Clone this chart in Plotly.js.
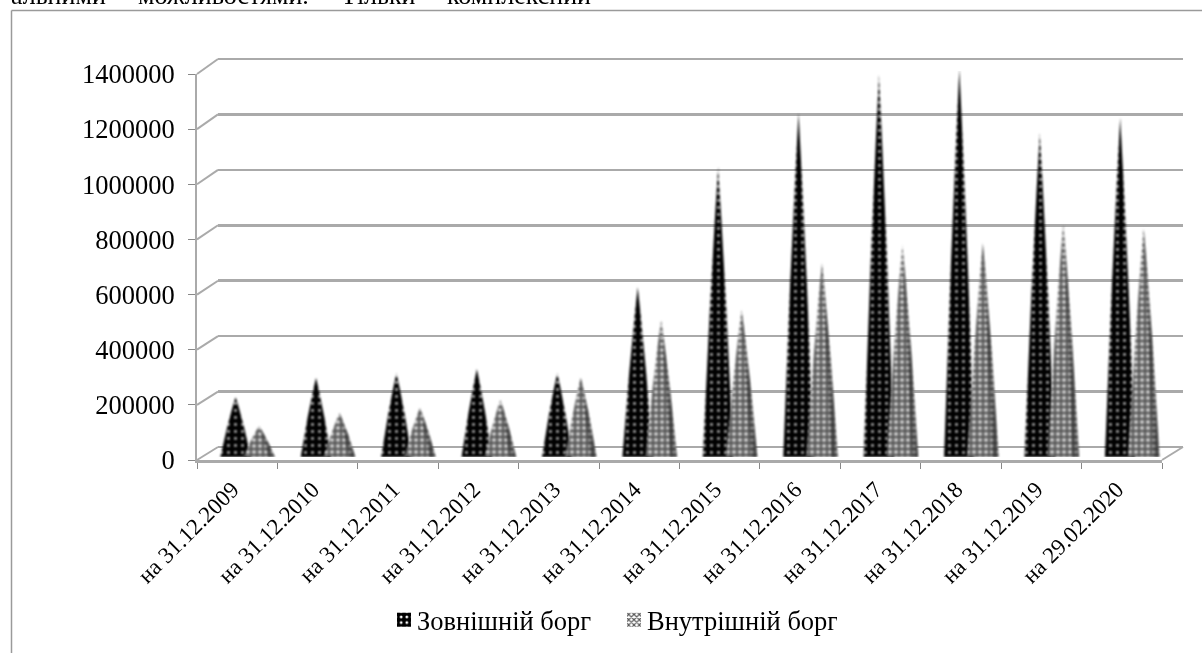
<!DOCTYPE html>
<html><head><meta charset="utf-8">
<script src="https://cdn.plot.ly/plotly-3.0.1.min.js"></script>
<style>
html,body{margin:0;padding:0;background:#fff;overflow:hidden}
#chart{width:1202px;height:653px;filter:blur(0.45px)}
.legendpoints path{transform:translate(27px,0) scale(1.17)}
.scatterlayer .trace{filter:blur(0.9px)}
</style></head><body><div id="chart"></div>
<script>
const categories=['на 31.12.2009','на 31.12.2010','на 31.12.2011','на 31.12.2012','на 31.12.2013','на 31.12.2014','на 31.12.2015','на 31.12.2016','на 31.12.2017','на 31.12.2018','на 31.12.2019','на 29.02.2020'];
const externalDebt=[218000,287000,305000,319000,305000,617000,1052000,1248000,1386000,1407000,1175000,1230000];
const internalDebt=[112000,160000,178000,207000,287000,497000,533000,704000,769000,776000,849000,831000];
const seriesNames=['Зовнішній борг','Внутрішній борг'];
const yTicks=[0,200000,400000,600000,800000,1000000,1200000,1400000];
const headerWords=[['альними',10],['можливостями.',137],['Тільки',340],['комплексний',446]];

const W=1202,H=653;
const fx=p=>p/W, fy=p=>1-p/H;
const FRONT={l:197,r:1162,t:74,b:460};
const BACK={l:218,r:1183,t:59,b:447};
const CONE_BASE=457;
const GREY='#aaaaaa';
const YMAX=1400000;
const GRID_PAD=40000;
const gridPadPx=GRID_PAD*(BACK.b-BACK.t)/YMAX;
// silhouette of the 3D cone: [height fraction, half-width fraction]
const PROFILE=[[0,1],[0.5,0.55],[0.83,0.2],[1,0]];

function cone(values,offset,hw){
  const x=[],y=[];
  values.forEach((v,i)=>{
    const c=i+offset;
    PROFILE.forEach(([h,w])=>{x.push(c-hw*w);y.push(v*h);});
    PROFILE.slice(0,-1).reverse().forEach(([h,w])=>{x.push(c+hw*w);y.push(v*h);});
    x.push(null);y.push(null);
  });
  return {x,y};
}
function shade(values,offset,hw,inner){
  const x=[],y=[];
  values.forEach((v,i)=>{
    const c=i+offset;
    PROFILE.forEach(([h,w])=>{x.push(c+hw*w*inner);y.push(v*h);});
    PROFILE.slice(0,-1).reverse().forEach(([h,w])=>{x.push(c+hw*w);y.push(v*h);});
    x.push(null);y.push(null);
  });
  return {x,y};
}
const ce=cone(externalDebt,0.48,0.19), ci=cone(internalDebt,0.772,0.195), si=shade(internalDebt,0.772,0.195,0.6);
const traces=[
 {type:'bar',name:seriesNames[0],x:categories,y:categories.map(()=>null),xaxis:'x',yaxis:'y',
  marker:{color:'#000',line:{width:0},pattern:{shape:'.',bgcolor:'#000',fgcolor:'#fff',size:6,solidity:.2,fillmode:'replace'}}},
 {type:'bar',name:seriesNames[1],x:categories,y:categories.map(()=>null),xaxis:'x',yaxis:'y',
  marker:{color:'#777',line:{width:0},pattern:{shape:'x',bgcolor:'#fff',fgcolor:'#555',size:4,solidity:.5,fillmode:'replace'}}},
 {type:'scatter',mode:'lines',x:[0,12],y:[0,0],xaxis:'x2',yaxis:'y2',line:{width:0},opacity:0,showlegend:false,hoverinfo:'skip'},
 {type:'scatter',mode:'lines',x:ce.x,y:ce.y,xaxis:'x3',yaxis:'y3',fill:'toself',line:{width:0,color:'#000'},showlegend:false,hoverinfo:'skip',
  fillcolor:'#000',fillpattern:{shape:'.',bgcolor:'#000',fgcolor:'#bbb',size:7,solidity:.14,fillmode:'replace'}},
 {type:'scatter',mode:'lines',x:ci.x,y:ci.y,xaxis:'x3',yaxis:'y3',fill:'toself',line:{width:0,color:'#666'},showlegend:false,hoverinfo:'skip',
  fillcolor:'#777',fillpattern:{shape:'.',bgcolor:'#5a5a5a',fgcolor:'#cfcfcf',size:6,solidity:.38,fillmode:'replace'}},
 {type:'scatter',mode:'lines',x:si.x,y:si.y,xaxis:'x3',yaxis:'y3',fill:'toself',line:{width:0,color:'#000'},showlegend:false,hoverinfo:'skip',fillcolor:'rgba(0,0,0,0.35)'}
];

const shapes=[
 {type:'line',xref:'paper',yref:'paper',x0:fx(11.5),x1:fx(11.5),y0:fy(10.5),y1:fy(653),line:{color:'#9a9a9a',width:1.5}},
 {type:'line',xref:'paper',yref:'paper',x0:fx(11.5),x1:fx(1202),y0:fy(10.5),y1:fy(10.5),line:{color:'#9a9a9a',width:1.5}}
];
yTicks.forEach(v=>{
  const py=FRONT.b-(FRONT.b-FRONT.t)*v/YMAX, qy=BACK.b-(BACK.b-BACK.t)*v/YMAX;
  shapes.push({type:'line',layer:'below',xref:'paper',yref:'paper',x0:fx(FRONT.l),y0:fy(py),x1:fx(BACK.l),y1:fy(qy),line:{color:GREY,width:2}});
});
shapes.push({type:'line',layer:'below',xref:'paper',yref:'paper',x0:fx(FRONT.r),y0:fy(FRONT.b),x1:fx(BACK.r),y1:fy(BACK.b),line:{color:GREY,width:2}});

const annotations=headerWords.map(([t,px])=>({text:t,xref:'paper',yref:'paper',x:fx(px),y:fy(-4.5),xanchor:'left',yanchor:'middle',showarrow:false,borderpad:0,
  font:{family:'Liberation Serif',size:26,color:'#000'}}));

const layout={
 width:W,height:H,margin:{l:0,r:0,t:0,b:0},paper_bgcolor:'#fff',plot_bgcolor:'rgba(0,0,0,0)',
 font:{family:'Liberation Serif',color:'#000'},
 barmode:'group',
 xaxis:{domain:[fx(FRONT.l),fx(FRONT.r)],anchor:'y',type:'category',categoryorder:'array',categoryarray:categories,range:[-0.5,11.5],tickson:'boundaries',ticks:'outside',ticklen:6,tickwidth:1,tickcolor:'#888',
   showline:true,linecolor:GREY,linewidth:3,showgrid:false,zeroline:false,tickangle:-45,tickfont:{size:23,family:'Liberation Serif'},automargin:false,ticklabelstandoff:4,ticklabelshift:-5},
 yaxis:{domain:[fy(FRONT.b),fy(FRONT.t)],anchor:'x',range:[0,YMAX],tickmode:'array',tickvals:yTicks,ticktext:yTicks.map(String),ticks:'outside',ticklen:7,tickwidth:1,tickcolor:'#888',
   showline:true,linecolor:GREY,linewidth:2,showgrid:false,zeroline:false,tickfont:{size:26.5,family:'Liberation Serif'},automargin:false,ticklabelstandoff:8},
 xaxis2:{domain:[fx(BACK.l),fx(BACK.r)],anchor:'y2',range:[0,12],visible:false},
 yaxis2:{domain:[fy(BACK.b+gridPadPx),fy(BACK.t-gridPadPx)],anchor:'x2',range:[-GRID_PAD,YMAX+GRID_PAD],tickmode:'array',tickvals:yTicks,showgrid:true,gridcolor:GREY,gridwidth:2.5,showticklabels:false,ticks:'',showline:false,zeroline:false},
 xaxis3:{domain:[fx(FRONT.l),fx(FRONT.r)],anchor:'y3',range:[0,12],visible:false},
 yaxis3:{domain:[fy(CONE_BASE),fy(CONE_BASE-(FRONT.b-FRONT.t))],anchor:'x3',range:[0,YMAX],visible:false},
 legend:{orientation:'h',x:fx(377),y:fy(620),xanchor:'left',yanchor:'middle',font:{size:26.5,family:'Liberation Serif',color:'#000'},bgcolor:'rgba(0,0,0,0)',entrywidth:185,entrywidthmode:'pixels'},
 shapes,annotations
};
Plotly.newPlot('chart',traces,layout,{displayModeBar:false,staticPlot:true});
</script></body></html>
